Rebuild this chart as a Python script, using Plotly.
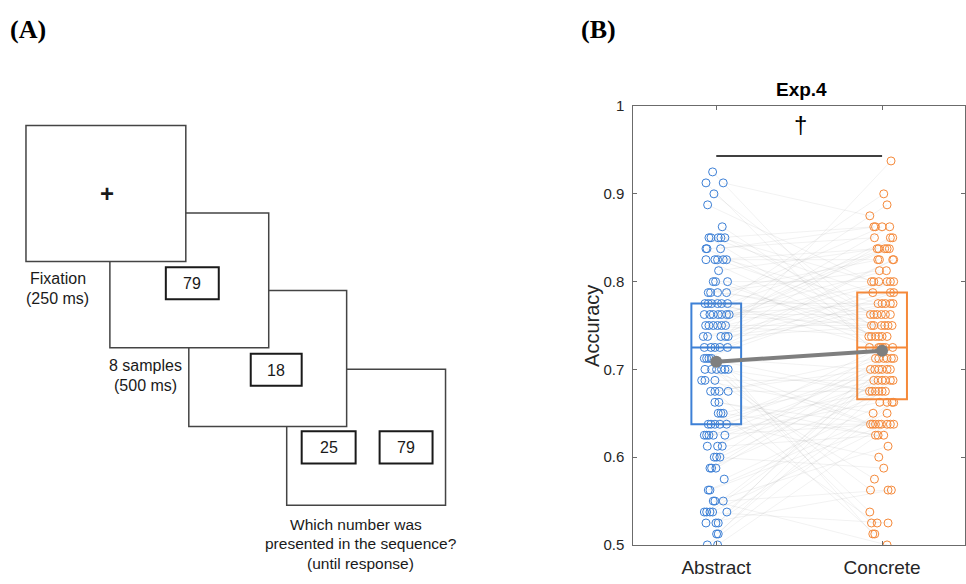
import plotly.graph_objects as go

# ---------------- data ----------------
categories = ["Abstract", "Concrete"]
cat_pos = [1, 2]

abstract_levels = [0.925, 0.9125, 0.9, 0.8875, 0.8625, 0.85, 0.8375, 0.825, 0.8125, 0.8,
                   0.7875, 0.775, 0.7625, 0.75, 0.7375, 0.725, 0.7125, 0.7, 0.6875, 0.675,
                   0.6625, 0.65, 0.6375, 0.625, 0.6125, 0.6, 0.5875, 0.575, 0.5625, 0.55,
                   0.5375, 0.525, 0.5125, 0.5]
abstract_jitter = [[-0.022], [-0.062, 0.042], [-0.014], [-0.052], [0.036],
                   [-0.044, -0.032, 0.012, 0.028, 0.052], [-0.062, -0.056, 0.026],
                   [-0.062, -0.008, 0.008, 0.042, 0.062], [0.014], [-0.018, -0.004, 0.068],
                   [-0.048, -0.034, 0.008, 0.062], [-0.068, -0.048, -0.028, 0.008, 0.032, 0.068],
                   [-0.072, -0.038, -0.018, 0.012, 0.032, 0.062, 0.078],
                   [-0.064, -0.044, -0.018, 0.008, 0.032, 0.056],
                   [-0.078, -0.052, 0.028, 0.056, 0.072], [-0.072, -0.032, -0.008, 0.022, 0.068],
                   [-0.072, -0.058, -0.044, -0.028], [-0.068, -0.028, 0.002, 0.032, 0.052, 0.072],
                   [-0.088, -0.068, -0.008], [-0.034, -0.008, 0.018, 0.072], [-0.008, 0.016],
                   [0.012, 0.028, 0.042], [-0.048, -0.032, -0.008, 0.022, 0.062],
                   [-0.072, -0.058, -0.044, -0.018, 0.052], [-0.054, 0.008, 0.036],
                   [-0.012, 0.002, 0.022], [-0.038, -0.028, -0.002], [0.048], [-0.048, -0.038],
                   [-0.018, -0.008, 0.042], [-0.072, -0.058, -0.038, -0.022, 0.064],
                   [-0.062, -0.002, 0.012], [0.002, 0.012], [-0.054, 0.008]]

concrete_levels = [0.9375, 0.9, 0.8875, 0.875, 0.8625, 0.85, 0.8375, 0.825, 0.8125, 0.8,
                   0.7875, 0.775, 0.7625, 0.75, 0.7375, 0.725, 0.7125, 0.7, 0.6875, 0.675,
                   0.6625, 0.65, 0.6375, 0.625, 0.6125, 0.6, 0.5875, 0.575, 0.5625, 0.5375,
                   0.525, 0.5125, 0.5]
concrete_jitter = [[0.054], [0.010], [0.030], [-0.074], [-0.050, -0.040, 0.000, 0.046],
                   [-0.046, 0.050, 0.064], [-0.030, -0.020, 0.016, 0.030, 0.044],
                   [-0.026, -0.016, 0.064, 0.070], [-0.016, 0.026],
                   [-0.064, -0.050, -0.020, 0.030, 0.050, 0.070], [-0.056, 0.050, 0.070],
                   [-0.024, 0.000, 0.020, 0.050, 0.066],
                   [-0.070, -0.050, -0.030, -0.004, 0.020, 0.050],
                   [-0.064, -0.050, -0.004, 0.016, 0.036, 0.060],
                   [-0.080, -0.064, -0.040, -0.020, 0.000, 0.030],
                   [-0.076, -0.020, 0.004, 0.064, -0.010, 0.020],
                   [-0.040, -0.020, 0.010, 0.030, 0.056, 0.070],
                   [-0.070, -0.044, -0.020, 0.000, 0.030, 0.050],
                   [-0.050, -0.024, 0.000, 0.020, 0.050, 0.066],
                   [-0.076, -0.060, -0.040, -0.020, 0.000, 0.020],
                   [-0.014, 0.030, 0.060, 0.070], [-0.054, 0.030],
                   [-0.070, -0.056, -0.040, -0.020, -0.004, 0.030, 0.050, 0.070],
                   [-0.040, -0.024, 0.010], [0.036], [-0.020], [0.010], [-0.046],
                   [-0.070, 0.036, 0.056], [-0.074], [-0.064, -0.030, 0.036], [-0.056, -0.044],
                   [0.030]]

box_q1 = [0.6375, 0.666]
box_median = [0.725, 0.725]
box_q3 = [0.775, 0.7875]
group_means = [0.7088, 0.7212]

y_ticks = [0.5, 0.6, 0.7, 0.8, 0.9, 1.0]
y_tick_labels = ["0.5", "0.6", "0.7", "0.8", "0.9", "1"]

# ---------------- build points ----------------
def expand(levels, jitter, center):
    xs, ys = [], []
    for v, js in zip(levels, jitter):
        for j in js:
            xs.append(center + j)
            ys.append(v)
    return xs, ys

ax, ay = expand(abstract_levels, abstract_jitter, cat_pos[0])
cx, cy = expand(concrete_levels, concrete_jitter, cat_pos[1])
n = min(len(ax), len(cx))

# pairing of subjects (within upper / lower halves)
a_order = sorted(range(len(ax)), key=lambda i: -ay[i])[:n]
c_rank = sorted(range(len(cx)), key=lambda i: -cy[i])[:n]
half = n // 2
c_top = sorted(c_rank[:half], key=lambda i: cx[i])
c_bot = sorted(c_rank[half:], key=lambda i: cx[i])
c_order = c_top + c_bot

lx, ly = [], []
for ia, ic in zip(a_order, c_order):
    lx += [ax[ia], cx[ic], None]
    ly += [ay[ia], cy[ic], None]

BLUE = "#3d80d6"
ORANGE = "#f5893a"
FONT = "Liberation Sans, Arial, sans-serif"

fig = go.Figure()
fig.add_trace(go.Scatter(x=lx, y=ly, mode="lines",
                         line=dict(color="rgba(150,150,150,0.12)", width=1),
                         hoverinfo="skip", showlegend=False))
fig.add_trace(go.Scatter(x=ax, y=ay, mode="markers", showlegend=False,
                         marker=dict(symbol="circle-open", size=8, color=BLUE,
                                     line=dict(width=1, color=BLUE))))
fig.add_trace(go.Scatter(x=cx, y=cy, mode="markers", showlegend=False,
                         marker=dict(symbol="circle-open", size=8, color=ORANGE,
                                     line=dict(width=1, color=ORANGE))))
for k, col in enumerate([BLUE, ORANGE]):
    fig.add_trace(go.Box(x=[cat_pos[k]], q1=[box_q1[k]], median=[box_median[k]],
                         q3=[box_q3[k]], lowerfence=[box_q1[k]], upperfence=[box_q3[k]],
                         width=0.3, whiskerwidth=0, boxpoints=False,
                         line=dict(color=col, width=2), fillcolor="rgba(0,0,0,0)",
                         showlegend=False, hoverinfo="skip"))
fig.add_trace(go.Scatter(x=cat_pos, y=group_means, mode="lines+markers", showlegend=False,
                         line=dict(color="#7f7f7f", width=4),
                         marker=dict(size=12, color="#7f7f7f")))

W, H = 966, 584
def PX(x):
    return x / W
def PY(y):
    return 1 - y / H

axis_col = "#6b6b6b"
fig.update_layout(
    width=W, height=H, margin=dict(l=0, r=0, t=0, b=0),
    paper_bgcolor="white", plot_bgcolor="rgba(0,0,0,0)",
    xaxis=dict(domain=[PX(634), 1], range=[0.5, 2.5], tickvals=cat_pos, ticktext=categories,
               ticks="inside", ticklen=4, tickcolor=axis_col, showline=True,
               linecolor=axis_col, linewidth=1, mirror="allticks", showgrid=False,
               zeroline=False, ticklabelstandoff=5,
               tickfont=dict(family=FONT, size=19, color="#262626")),
    yaxis=dict(domain=[PY(552), PY(100)], range=[0.5, 1.0], tickvals=y_ticks,
               ticktext=y_tick_labels, ticks="inside", ticklen=4, tickcolor=axis_col,
               showline=True, linecolor=axis_col, linewidth=1, mirror="allticks",
               showgrid=False, zeroline=False, ticklabelstandoff=5,
               tickfont=dict(family=FONT, size=15, color="#262626")),
)

shapes = []
# significance bar
shapes.append(dict(type="line", xref="x", yref="y", x0=cat_pos[0], x1=cat_pos[1],
                   y0=0.943, y1=0.943, line=dict(color="black", width=1.5)))

def rect(x0, y0, x1, y1, col, w):
    return dict(type="rect", xref="paper", yref="paper", x0=PX(x0), x1=PX(x1),
                y0=PY(y1), y1=PY(y0), line=dict(color=col, width=w), fillcolor="white",
                layer="above")

big = "#444444"
small = "#1a1a1a"
shapes += [
    rect(287, 371, 446, 511, big, 1.5),
    rect(302, 435, 356, 468, small, 2),
    rect(380, 435, 433, 468, small, 2),
    rect(189, 290, 347, 430, big, 1.5),
    rect(251, 355, 302, 388, small, 2),
    rect(110, 210, 269, 349, big, 1.5),
    rect(166, 266, 219, 299, small, 2),
    rect(26, 120, 186, 260, big, 1.5),
]
fig.update_layout(shapes=shapes)

def txt(x, y, s, size, family=FONT, bold=False, color="#1a1a1a", xanchor="center", textangle=0):
    if bold:
        s = "<b>" + s + "</b>"
    return dict(x=PX(x), y=PY(y), xref="paper", yref="paper", text=s, showarrow=False,
                xanchor=xanchor, yanchor="middle", textangle=textangle,
                font=dict(family=family, size=size, color=color))

SERIF = "Liberation Serif, Times New Roman, serif"
ann = [
    txt(8, 21, "(A)", 26, SERIF, True, "black", "left"),
    txt(580, 21, "(B)", 26, SERIF, True, "black", "left"),
    txt(107, 190, "+", 24, bold=True),
    txt(192, 283, "79", 16),
    txt(58, 278, "Fixation", 16),
    txt(58, 298, "(250 ms)", 16),
    txt(146, 367, "8 samples", 16),
    txt(146, 388, "(500 ms)", 16),
    txt(276, 372, "18", 16),
    txt(329, 452, "25", 16),
    txt(406, 452, "79", 16),
    txt(356, 531, "Which number was", 15.5),
    txt(361, 551, "presented in the sequence?", 15.5),
    txt(361, 571, "(until response)", 15.5),
    txt(802, 83, "Exp.4", 19, bold=True, color="black"),
    txt(801, 119, "\u2020", 24, color="black"),
    txt(592, 326, "Accuracy", 20, color="#262626", textangle=-90),
]
fig.update_layout(annotations=ann)

fig.write_html("out.html", config={"displayModeBar": False},
               post_script="document.documentElement.style.margin='0';"
                           "document.body.style.margin='0';"
                           "document.body.style.overflow='hidden';")
